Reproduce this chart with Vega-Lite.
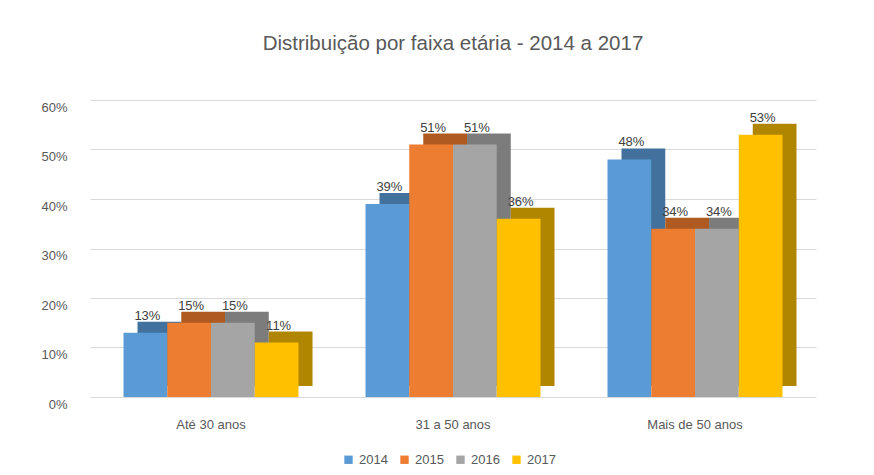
{
  "$schema": "https://vega.github.io/schema/vega-lite/v6.json",
  "width": 726,
  "height": 297,
  "padding": {"left": 40, "right": 10, "top": 33, "bottom": 5},
  "background": "white",
  "title": {"text": "Distribuição por faixa etária - 2014 a 2017", "font": "Liberation Sans", "fontSize": 20.5, "fontWeight": "normal", "color": "#595959", "offset": 46, "anchor": "middle"},
  "config": {"view": {"stroke": null}, "font": "Liberation Sans"},
  "data": {"values": [
    {"faixa": "Até 30 anos", "ano": "2014", "valor": 0.13},
    {"faixa": "Até 30 anos", "ano": "2015", "valor": 0.15},
    {"faixa": "Até 30 anos", "ano": "2016", "valor": 0.15},
    {"faixa": "Até 30 anos", "ano": "2017", "valor": 0.11},
    {"faixa": "31 a 50 anos", "ano": "2014", "valor": 0.39},
    {"faixa": "31 a 50 anos", "ano": "2015", "valor": 0.51},
    {"faixa": "31 a 50 anos", "ano": "2016", "valor": 0.51},
    {"faixa": "31 a 50 anos", "ano": "2017", "valor": 0.36},
    {"faixa": "Mais de 50 anos", "ano": "2014", "valor": 0.48},
    {"faixa": "Mais de 50 anos", "ano": "2015", "valor": 0.34},
    {"faixa": "Mais de 50 anos", "ano": "2016", "valor": 0.34},
    {"faixa": "Mais de 50 anos", "ano": "2017", "valor": 0.53}
  ]},
  "encoding": {
    "x": {"field": "faixa", "type": "nominal", "sort": ["Até 30 anos", "31 a 50 anos", "Mais de 50 anos"], "scale": {"paddingInner": 0.277, "paddingOuter": 0.1385},
      "axis": {"title": null, "labelAngle": 0, "domain": false, "ticks": false, "labelPadding": 21, "labelFontSize": 13, "labelColor": "#595959"}},
    "y": {"field": "valor", "type": "quantitative", "scale": {"domain": [0, 0.6]},
      "axis": {"title": null, "format": ".0%", "values": [0, 0.1, 0.2, 0.3, 0.4, 0.5, 0.6], "domain": false, "ticks": false, "labelPadding": 23, "labelOffset": 7, "labelFontSize": 13, "labelColor": "#595959", "gridColor": "#D9D9D9"}}
  },
  "layer": [
    {"mark": {"type": "bar", "yOffset": -11, "y2Offset": -11},
     "encoding": {
       "xOffset": {"field": "ano", "type": "nominal", "scale": {"range": [14, 189], "paddingInner": 0, "paddingOuter": 0}},
       "color": {"field": "ano", "type": "nominal", "legend": null, "scale": {"domain": ["2014", "2015", "2016", "2017"], "range": ["#41719C", "#AE5A21", "#7C7C7C", "#B08500"]}}}},
    {"mark": {"type": "bar"},
     "encoding": {
       "xOffset": {"field": "ano", "type": "nominal", "scale": {"paddingInner": 0, "paddingOuter": 0}},
       "color": {"field": "ano", "type": "nominal", "scale": {"domain": ["2014", "2015", "2016", "2017"], "range": ["#5B9BD5", "#ED7D31", "#A5A5A5", "#FFC000"]},
       "legend": {"title": null, "orient": "none", "legendX": 252, "legendY": 353, "direction": "horizontal", "symbolType": "square", "symbolSize": 70, "labelFontSize": 13, "labelColor": "#595959", "columnPadding": 10}}}},
    {"mark": {"type": "text", "baseline": "alphabetic", "dy": -13, "dx": 2, "fontSize": 13, "color": "#404040"},
     "encoding": {
       "xOffset": {"field": "ano", "type": "nominal", "scale": {"type": "point", "range": [0, 175], "padding": 0.5}},
       "text": {"field": "valor", "type": "quantitative", "format": ".0%"}}}
  ],
  "resolve": {"scale": {"color": "independent", "xOffset": "independent"}}
}
